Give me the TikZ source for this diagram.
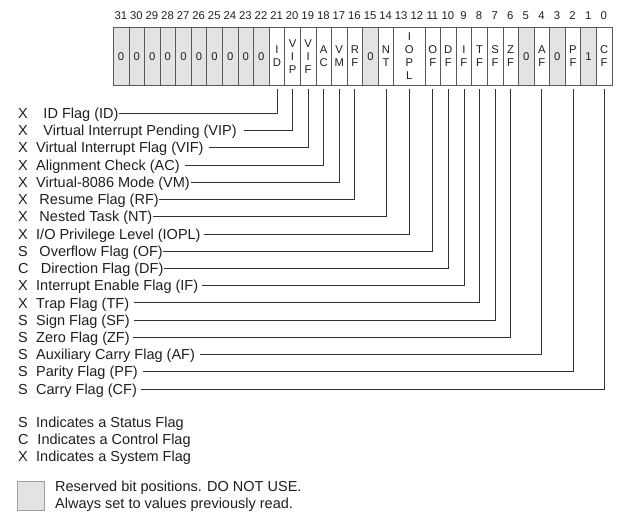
\documentclass[tikz,border=0pt]{standalone}
\usepackage{fontspec}
\setmainfont{Liberation Sans}
\usetikzlibrary{positioning}
\definecolor{resv}{gray}{0.89}
\definecolor{edge}{gray}{0.35}
\definecolor{ink}{gray}{0.12}

\begin{document}
\begin{tikzpicture}[x = 1pt, y = -1pt,
  cell/.style = {draw = edge, line width = 0.7pt, anchor = north west, inner sep = 0pt,
    minimum height = 58pt, align = center, text = ink, font = \fontsize{11.3}{12.9}\selectfont},
  bitnum/.style = {inner sep = 0pt, text = ink, font = \fontsize{11.3}{13}\selectfont},
  lbl/.style = {anchor = west, inner xsep = 0pt, inner ysep = 0pt, text height = 10.4pt,
    text depth = 0pt, text = ink, font = \fontsize{14.5}{17.2}\selectfont},
  conn/.style = {draw = black!80, line width = 0.8pt, shorten > = 3.3pt}]
\useasboundingbox (0,0) rectangle (634,527);

\foreach \b in {0,...,31}
  \node[bitnum] (n\b) at ({113+(31-\b+0.5)*15.58}, 16) {\b};

\foreach \b in {22,...,31}
  \node[cell, fill = resv, minimum width = 15.58pt] (b\b) at ({113+(31-\b)*15.58}, 27) {0};
\foreach \n/\t/\b/\w/\f in {id/I\\D/21/1/white, vip/V\\I\\P/20/1/white, vif/V\\I\\F/19/1/white,
    ac/A\\C/18/1/white, vm/V\\M/17/1/white, rf/R\\F/16/1/white, b15/0/15/1/resv,
    nt/N\\T/14/1/white, iopl/I\\O\\P\\L/13/2/white, of/O\\F/11/1/white, df/D\\F/10/1/white,
    if/I\\F/9/1/white, tf/T\\F/8/1/white, sf/S\\F/7/1/white, zf/Z\\F/6/1/white,
    b5/0/5/1/resv, af/A\\F/4/1/white, b3/0/3/1/resv, pf/P\\F/2/1/white,
    b1/1/1/1/resv, cf/C\\F/0/1/white}
  \node[cell, fill = \f, minimum width = \w*15.58pt] (\n) at ({113+(31-\b)*15.58}, 27) {\t};

\foreach \k/\t/\c/\o/\g [count = \r from 0] in {
    X/ID Flag (ID)/id/7.3/0, X/Virtual Interrupt Pending (VIP)/vip/7.3/7.5,
    X/Virtual Interrupt Flag (VIF)/vif/0/5, X/Alignment Check (AC)/ac/0/5,
    X/Virtual-8086 Mode (VM)/vm/0/0.7, X/Resume Flag (RF)/rf/3.3/0,
    X/Nested Task (NT)/nt/3.3/0, X/{I/O Privilege Level (IOPL)}/iopl/0/3,
    S/Overflow Flag (OF)/of/3.3/0, C/Direction Flag (DF)/df/4.7/0,
    X/Interrupt Enable Flag (IF)/if/0/4, X/Trap Flag (TF)/tf/0/4.3,
    S/Sign Flag (SF)/sf/0/3.7, S/Zero Flag (ZF)/zf/0/3.3,
    S/Auxiliary Carry Flag (AF)/af/0/5, S/Parity Flag (PF)/pf/0/5,
    S/Carry Flag (CF)/cf/0/4.3}
{
  \node[lbl] (l\r) at (18, {113.3+17.23*\r}) {\makebox[\dimexpr 18pt+\o pt\relax][l]{\k}\t};
  \draw[conn, shorten < = \g pt] (l\r.east) -| (\c.south);
}

\node[lbl] (legs) at (18, 422.3) {\makebox[18pt][l]{S}Indicates a Status Flag};
\node[lbl] (legc) at (18, 439.5) {\makebox[19.3pt][l]{C}Indicates a Control Flag};
\node[lbl] (legx) at (18, 456.7) {\makebox[18pt][l]{X}Indicates a System Flag};

\node[draw = gray!75, fill = resv, line width = 0.7pt, anchor = north west, inner sep = 0pt,
  minimum width = 27pt, minimum height = 29pt] (resbox) at (17.3, 481) {};
\node[right = 10pt of resbox, inner sep = 0pt, align = left, text = ink,
  font = \fontsize{14.5}{17}\selectfont] (restext)
  {Reserved bit positions. DO NOT USE.\\Always set to values previously read.};
\end{tikzpicture}
\end{document}
